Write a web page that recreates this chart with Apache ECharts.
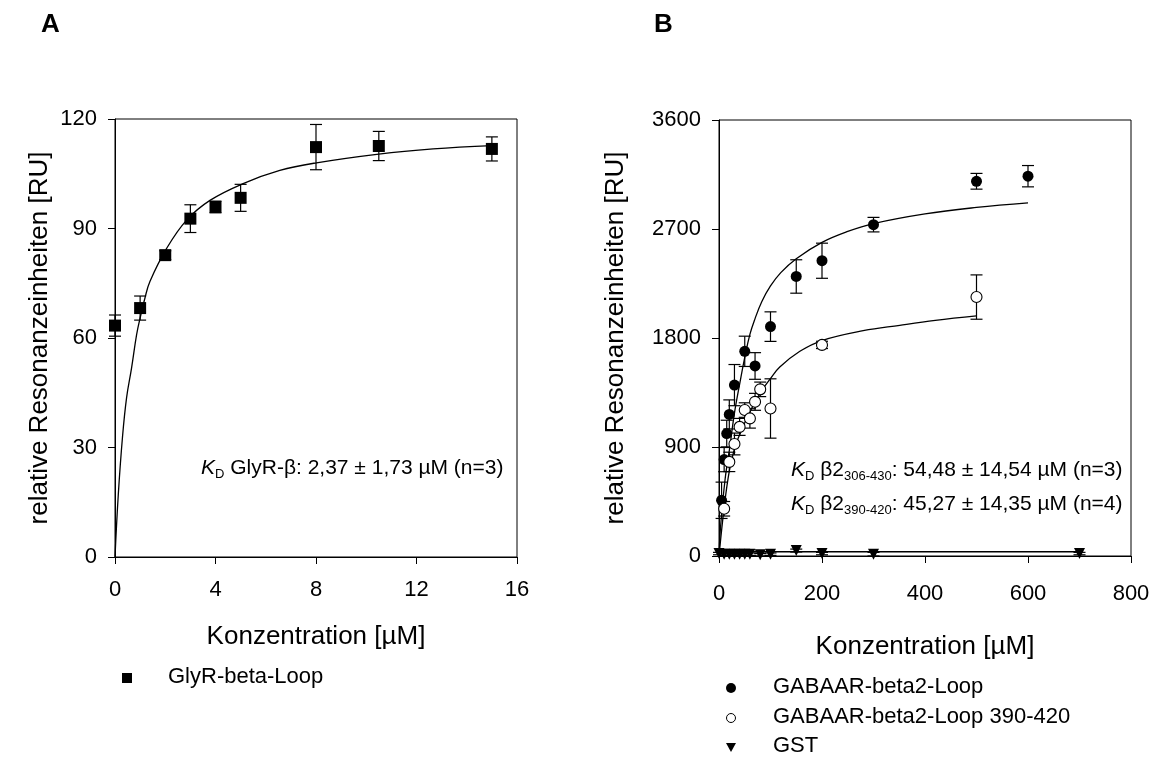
<!DOCTYPE html>
<html lang="de">
<head>
<meta charset="UTF-8">
<title>Bindungskurven</title>
<script src="https://cdn.jsdelivr.net/npm/echarts@6/dist/echarts.min.js"></script>
<style>
  html, body { margin: 0; padding: 0; background: #fff; }
  #main { width: 1157px; height: 760px; }
</style>
</head>
<body>
<div id="main"></div>
<script>
// ---- Panel A: GlyR-beta-Loop ----
var aConc = [0, 1, 2, 3, 4, 5, 8, 10.5, 15];
var aResp = [63.4, 68.2, 82.7, 92.7, 95.9, 98.4, 112.3, 112.6, 111.8];
var aErr  = [2.9, 3.3, 1.2, 3.8, 1.6, 3.7, 6.2, 4.0, 3.3];
// fit curve
var aFitX = [0, 0.13, 0.3, 0.46, 0.66, 0.86, 1.0, 1.19, 1.39, 2.05, 2.85, 3.78, 5.1, 6.56, 8.02, 10.5, 12.66, 15];
var aFitY = [0, 17, 33, 43.6, 51.8, 60.9, 65.5, 70.9, 75.5, 84.5, 92.3, 97.7, 102.3, 105.9, 108, 110.4, 111.8, 112.7];

// ---- Panel B ----
var b1Conc = [5, 10, 15, 20, 30, 50, 70, 100, 150, 200, 300, 500, 600];
var b1Resp = [460, 796, 1011, 1169, 1411, 1690, 1569, 1894, 2308, 2438, 2736, 3094, 3136];
var b1Err  = [150, 100, 110, 120, 170, 125, 110, 122, 138, 145, 60, 65, 88];

var b2Conc = [10, 20, 30, 40, 50, 60, 70, 80, 100, 200, 500];
var b2Resp = [390, 777, 925, 1066, 1205, 1136, 1273, 1376, 1218, 1743, 2138];
var b2Err  = [60, 80, 90, 70, 60, 80, 70, 60, 245, 30, 183];

var b3Conc = [0, 10, 20, 30, 40, 50, 60, 80, 100, 150, 200, 300, 700];
var b3Resp = [20, 15, 15, 15, 15, 15, 15, 10, 15, 45, 20, 15, 20];
var b3Err  = [10, 10, 10, 10, 10, 10, 10, 10, 10, 12, 10, 15, 10];

// fit curves
var b1FitX = [0, 3, 12, 21, 30, 41, 50, 60, 70, 83, 100, 120, 150, 200, 250, 300, 400, 500, 600];
var b1FitY = [0, 240, 640, 900, 1180, 1440, 1640, 1830, 1960, 2100, 2230, 2340, 2455, 2590, 2680, 2745, 2825, 2878, 2916];
var b2FitX = [0, 10, 20, 31, 41, 50, 60, 70, 83, 99, 118, 157, 200, 280, 351, 420, 500];
var b2FitY = [0, 400, 700, 900, 1010, 1100, 1190, 1270, 1365, 1460, 1560, 1690, 1779, 1860, 1905, 1945, 1982];
var b3FitX = [0, 700];
var b3FitY = [35, 35];

var aTicks = { min: 0, max: 16, interval: 4 };
var aYTicks = { min: 0, max: 120, interval: 30 };
var bTicks = { min: 0, max: 800, interval: 200 };
var bYTicks = { min: 0, max: 3600, interval: 900 };

var FONT = "'Liberation Sans', Arial, sans-serif";

function zip(xs, ys, es) {
    return xs.map(function (x, i) { return es ? [x, ys[i], es[i]] : [x, ys[i]]; });
}

// vertical error bar with caps
function errBar(params, api) {
    var x = api.value(0), y = api.value(1), e = api.value(2);
    var hi = api.coord([x, y + e]);
    var lo = api.coord([x, y - e]);
    var w = 6;
    var st = { stroke: '#000', lineWidth: 1.2 };
    return {
        type: 'group',
        children: [
            { type: 'line', shape: { x1: hi[0], y1: hi[1], x2: lo[0], y2: lo[1] }, style: st },
            { type: 'line', shape: { x1: hi[0] - w, y1: hi[1], x2: hi[0] + w, y2: hi[1] }, style: st },
            { type: 'line', shape: { x1: lo[0] - w, y1: lo[1], x2: lo[0] + w, y2: lo[1] }, style: st }
        ]
    };
}

function xAx(idx, t, gap, labelMargin) {
    return {
        type: 'value', gridIndex: idx, min: t.min, max: t.max, interval: t.interval,
        name: 'Konzentration [µM]', nameLocation: 'middle', nameGap: gap,
        nameTextStyle: { fontFamily: FONT, fontSize: 26, color: '#000' },
        axisLine: { show: true, lineStyle: { color: '#000', width: 1 } },
        axisTick: { show: true, inside: false, length: 7, lineStyle: { color: '#000' } },
        axisLabel: { fontFamily: FONT, fontSize: 22, color: '#000', margin: labelMargin,
            formatter: function (v) { return String(v); } },
        splitLine: { show: false }
    };
}
function yAx(idx, t, gap) {
    return {
        type: 'value', gridIndex: idx, min: t.min, max: t.max, interval: t.interval,
        name: 'relative Resonanzeinheiten [RU]', nameLocation: 'middle', nameGap: gap, nameRotate: 90,
        nameTextStyle: { fontFamily: FONT, fontSize: 26, color: '#000' },
        axisLine: { show: true, lineStyle: { color: '#000', width: 1 } },
        axisTick: { show: true, inside: false, length: 7, lineStyle: { color: '#000' } },
        axisLabel: { fontFamily: FONT, fontSize: 22, color: '#000', margin: 18,
            formatter: function (v) { return String(v); } },
        splitLine: { show: false }
    };
}

function fitLine(name, xi, data) {
    return {
        name: name, type: 'line', xAxisIndex: xi, yAxisIndex: xi, data: data,
        showSymbol: false, smooth: 0.4, silent: true, z: 2,
        lineStyle: { color: '#000', width: 1.3 }
    };
}
function bars(xi, data) {
    return { type: 'custom', xAxisIndex: xi, yAxisIndex: xi, data: data, renderItem: errBar, z: 3, silent: true };
}

var chart = echarts.init(document.getElementById('main'), null, { renderer: 'canvas' });

var sub = { fontFamily: FONT, fontSize: 13, lineHeight: 14, verticalAlign: 'bottom', fill: '#000' };
var norm = { fontFamily: FONT, fontSize: 21, lineHeight: 24, fill: '#000' };
var ital = { fontFamily: FONT, fontSize: 21, lineHeight: 24, fontStyle: 'italic', fill: '#000' };

var option = {
    animation: false,
    backgroundColor: '#fff',
    grid: [
        { left: 115, top: 119, width: 402, height: 438, show: true, borderColor: '#000', borderWidth: 1 },
        { left: 719, top: 120, width: 412, height: 436, show: true, borderColor: '#000', borderWidth: 1 }
    ],
    xAxis: [ xAx(0, aTicks, 67, 22), xAx(1, bTicks, 78, 27) ],
    yAxis: [ yAx(0, aYTicks, 62), yAx(1, bYTicks, 90) ],
    series: [
        fitLine('fitA', 0, zip(aFitX, aFitY)),
        bars(0, zip(aConc, aResp, aErr)),
        { name: 'GlyR-beta-Loop', type: 'scatter', xAxisIndex: 0, yAxisIndex: 0, z: 5,
          symbol: 'rect', symbolSize: 12, itemStyle: { color: '#000', opacity: 1 }, data: zip(aConc, aResp) },

        fitLine('fitB1', 1, zip(b1FitX, b1FitY)),
        fitLine('fitB2', 1, zip(b2FitX, b2FitY)),
        fitLine('fitB3', 1, zip(b3FitX, b3FitY)),
        bars(1, zip(b1Conc, b1Resp, b1Err)),
        bars(1, zip(b2Conc, b2Resp, b2Err)),
        bars(1, zip(b3Conc, b3Resp, b3Err)),
        { name: 'GABAAR-beta2-Loop', type: 'scatter', xAxisIndex: 1, yAxisIndex: 1, z: 5,
          symbol: 'circle', symbolSize: 11, itemStyle: { color: '#000', opacity: 1 }, data: zip(b1Conc, b1Resp) },
        { name: 'GABAAR-beta2-Loop 390-420', type: 'scatter', xAxisIndex: 1, yAxisIndex: 1, z: 6,
          symbol: 'circle', symbolSize: 11, itemStyle: { color: '#fff', borderColor: '#000', borderWidth: 1.1, opacity: 1 },
          data: zip(b2Conc, b2Resp) },
        { name: 'GST', type: 'scatter', xAxisIndex: 1, yAxisIndex: 1, z: 5,
          symbol: 'triangle', symbolRotate: 180, symbolSize: 11, itemStyle: { color: '#000', opacity: 1 },
          data: zip(b3Conc, b3Resp) }
    ],
    graphic: [
        { type: 'text', left: 41, top: 12, style: { text: 'A', fontFamily: FONT, fontSize: 26, fontWeight: 'bold', fill: '#000' } },
        { type: 'text', left: 654, top: 12, style: { text: 'B', fontFamily: FONT, fontSize: 26, fontWeight: 'bold', fill: '#000' } },

        // KD annotations
        { type: 'text', left: 201, top: 458, style: {
            text: '{k|K}{d|D}{t| GlyR-β: 2,37 ± 1,73 µM (n=3)}',
            rich: { k: ital, d: sub, t: norm } } },
        { type: 'text', left: 791, top: 460, style: {
            text: '{k|K}{d|D}{t| β2}{s|306-430}{t|: 54,48 ± 14,54 µM (n=3)}',
            rich: { k: ital, d: sub, t: norm, s: sub } } },
        { type: 'text', left: 791, top: 494, style: {
            text: '{k|K}{d|D}{t| β2}{s|390-420}{t|: 45,27 ± 14,35 µM (n=4)}',
            rich: { k: ital, d: sub, t: norm, s: sub } } },

        // legend A
        { type: 'rect', shape: { x: 122, y: 673, width: 10, height: 10 }, style: { fill: '#000' } },
        { type: 'text', left: 168, top: 666, style: { text: 'GlyR-beta-Loop', fontFamily: FONT, fontSize: 22, fill: '#000' } },

        // legend B
        { type: 'circle', shape: { cx: 731, cy: 688, r: 5 }, style: { fill: '#000' } },
        { type: 'text', left: 773, top: 676, style: { text: 'GABAAR-beta2-Loop', fontFamily: FONT, fontSize: 22, fill: '#000' } },
        { type: 'circle', shape: { cx: 731, cy: 718, r: 4.5 }, style: { fill: '#fff', stroke: '#000', lineWidth: 1 } },
        { type: 'text', left: 773, top: 706, style: { text: 'GABAAR-beta2-Loop 390-420', fontFamily: FONT, fontSize: 22, fill: '#000' } },
        { type: 'polygon', shape: { points: [[726, 743], [736, 743], [731, 752]] }, style: { fill: '#000' } },
        { type: 'text', left: 773, top: 735, style: { text: 'GST', fontFamily: FONT, fontSize: 22, fill: '#000' } }
    ]
};

chart.setOption(option);
</script>
</body>
</html>
